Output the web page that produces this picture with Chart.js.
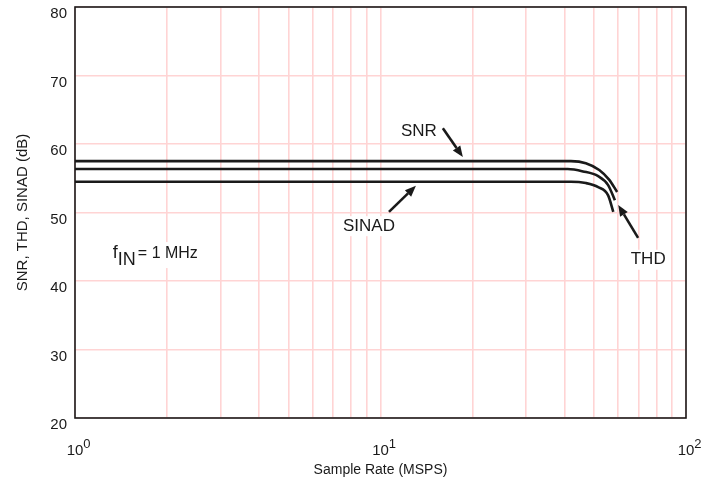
<!DOCTYPE html>
<html>
<head>
<meta charset="utf-8">
<script src="https://cdn.jsdelivr.net/npm/chart.js@4"></script>
<style>
  html, body { margin: 0; padding: 0; background: #fff; }
  #wrap { width: 725px; height: 479px; }
</style>
</head>
<body>
<div id="wrap"><canvas id="chart" width="725" height="479"></canvas></div>
<script>
// Sample rate (MSPS) and measured values (dB)
const snrRate = [1, 42, 47, 52, 56, 59.5];
const snrValues = [57.5, 57.5, 57.2, 56.2, 54.8, 53.0];
const thdRate = [1, 41, 46, 51.6, 55.6, 58.5];
const thdValues = [56.35, 56.35, 56.0, 55.3, 54.0, 51.8];
const sinadRate = [1, 42, 47, 51.6, 55.6, 57.8];
const sinadValues = [54.5, 54.5, 54.3, 53.7, 52.5, 50.1];

// Axis ticks
const xDecades = [1, 10, 100];
const xExponents = ['0', '1', '2'];
const yTicks = [20, 30, 40, 50, 60, 70, 80];

// Callout labels: text, label position, arrow tail, arrow head (data units)
const callouts = [
    { text: 'SNR', at: [13.35, 61.9], tail: [16.0, 62.3], head: [18.6, 58.1] },
    { text: 'SINAD', at: [9.17, 48.0], tail: [10.66, 50.1], head: [13.06, 53.9] },
    { text: 'THD', at: [75.2, 43.1], tail: [69.7, 46.3], head: [60.0, 51.1] }
];
const noteAt = [1.33, 43.35];

const gridPink = 'rgb(255,212,212)';
const ink = '#1a1a1a';
const font = 'Liberation Sans, Arial, sans-serif';

function toPoints(xs, ys) {
    return xs.map((x, i) => ({ x: x, y: ys[i] }));
}

function series(label, xs, ys) {
    return {
        label: label,
        data: toPoints(xs, ys),
        borderColor: ink,
        borderWidth: 2.6,
        pointRadius: 0,
        fill: false,
        cubicInterpolationMode: 'monotone'
    };
}

// All 1..9 x 10^k ticks for the log grid
const logTicks = [];
[1, 10].forEach(d => {
    for (let m = 1; m <= 9; m++) logTicks.push(m * d);
});
logTicks.push(100);

function drawArrow(ctx, x1, y1, x2, y2) {
    const ang = Math.atan2(y2 - y1, x2 - x1);
    const len = 11, half = 4.5;
    const bx = x2 - len * Math.cos(ang), by = y2 - len * Math.sin(ang);
    ctx.beginPath();
    ctx.moveTo(x1, y1);
    ctx.lineTo(bx, by);
    ctx.lineWidth = 2.6;
    ctx.strokeStyle = ink;
    ctx.stroke();
    ctx.beginPath();
    ctx.moveTo(x2, y2);
    ctx.lineTo(bx + half * Math.sin(ang), by - half * Math.cos(ang));
    ctx.lineTo(bx - half * Math.sin(ang), by + half * Math.cos(ang));
    ctx.closePath();
    ctx.fillStyle = ink;
    ctx.fill();
}

const decorPlugin = {
    id: 'decor',
    afterDraw(chart) {
        const ctx = chart.ctx;
        const xs = chart.scales.x, ys = chart.scales.y;
        const area = chart.chartArea;
        ctx.save();

        // Frame
        ctx.strokeStyle = ink;
        ctx.lineWidth = 1.6;
        ctx.strokeRect(area.left, area.top, area.right - area.left, area.bottom - area.top);

        // Callouts
        ctx.font = '17px ' + font;
        ctx.textBaseline = 'middle';
        ctx.textAlign = 'center';
        callouts.forEach(c => {
            const px = xs.getPixelForValue(c.at[0]);
            const py = ys.getPixelForValue(c.at[1]);
            const w = ctx.measureText(c.text).width;
            ctx.fillStyle = '#fff';
            ctx.fillRect(px - w / 2 - 3, py - 10, w + 6, 20);
            ctx.fillStyle = ink;
            ctx.fillText(c.text, px, py);
            drawArrow(ctx,
                xs.getPixelForValue(c.tail[0]), ys.getPixelForValue(c.tail[1]),
                xs.getPixelForValue(c.head[0]), ys.getPixelForValue(c.head[1]));
        });

        // f_IN note
        const nx = xs.getPixelForValue(noteAt[0]);
        const ny = ys.getPixelForValue(noteAt[1]);
        ctx.fillStyle = '#fff';
        ctx.fillRect(nx - 3, ny - 16, 110, 26);
        ctx.fillStyle = ink;
        ctx.textAlign = 'left';
        ctx.textBaseline = 'alphabetic';
        ctx.font = '18px ' + font;
        ctx.fillText('f', nx, ny);
        let cx = nx + ctx.measureText('f').width;
        ctx.fillText('IN', cx, ny + 7);
        cx += ctx.measureText('IN').width + 2;
        ctx.font = '16px ' + font;
        ctx.fillText('= 1 MHz', cx, ny);

        // X tick labels with superscripts
        xDecades.forEach((v, i) => {
            const px = xs.getPixelForValue(v);
            const base = area.bottom + 37;
            ctx.font = '15px ' + font;
            const w = ctx.measureText('10').width;
            ctx.fillText('10', px - w / 2, base);
            ctx.font = '13px ' + font;
            ctx.fillText(xExponents[i], px + w / 2, base - 7);
        });

        ctx.restore();
    }
};

new Chart(document.getElementById('chart'), {
    type: 'line',
    data: {
        datasets: [
            series('SNR', snrRate, snrValues),
            series('THD', thdRate, thdValues),
            series('SINAD', sinadRate, sinadValues)
        ]
    },
    options: {
        responsive: false,
        animation: false,
        layout: { padding: { top: 7, right: 39, left: 0, bottom: 0 } },
        plugins: {
            legend: { display: false },
            tooltip: { enabled: false }
        },
        scales: {
            x: {
                type: 'logarithmic',
                min: 1,
                max: 100,
                afterBuildTicks: (scale) => {
                    scale.ticks = logTicks.map(v => ({ value: v }));
                },
                afterFit: (scale) => {
                    scale.height = 61;
                    scale.paddingLeft = 0;
                    scale.paddingRight = 0;
                },
                grid: { color: gridPink, lineWidth: 1.6, drawTicks: false },
                border: { display: false },
                ticks: { display: false },
                title: {
                    display: true,
                    text: 'Sample Rate (MSPS)',
                    color: ink,
                    font: { family: font, size: 14 },
                    padding: { top: 32, bottom: 0 }
                }
            },
            y: {
                min: 20,
                max: 80,
                afterBuildTicks: (scale) => {
                    scale.ticks = yTicks.map(v => ({ value: v }));
                },
                afterFit: (scale) => {
                    scale.width = 75;
                    scale.paddingTop = 0;
                    scale.paddingBottom = 0;
                },
                grid: { color: gridPink, lineWidth: 1.6, drawTicks: false },
                border: { display: false },
                ticks: {
                    color: ink,
                    padding: 8,
                    labelOffset: 7,
                    font: { family: font, size: 15 }
                },
                title: {
                    display: true,
                    text: 'SNR, THD, SINAD (dB)',
                    color: ink,
                    font: { family: font, size: 15 },
                    padding: { top: 14, bottom: 4 }
                }
            }
        }
    },
    plugins: [decorPlugin]
});
</script>
</body>
</html>
